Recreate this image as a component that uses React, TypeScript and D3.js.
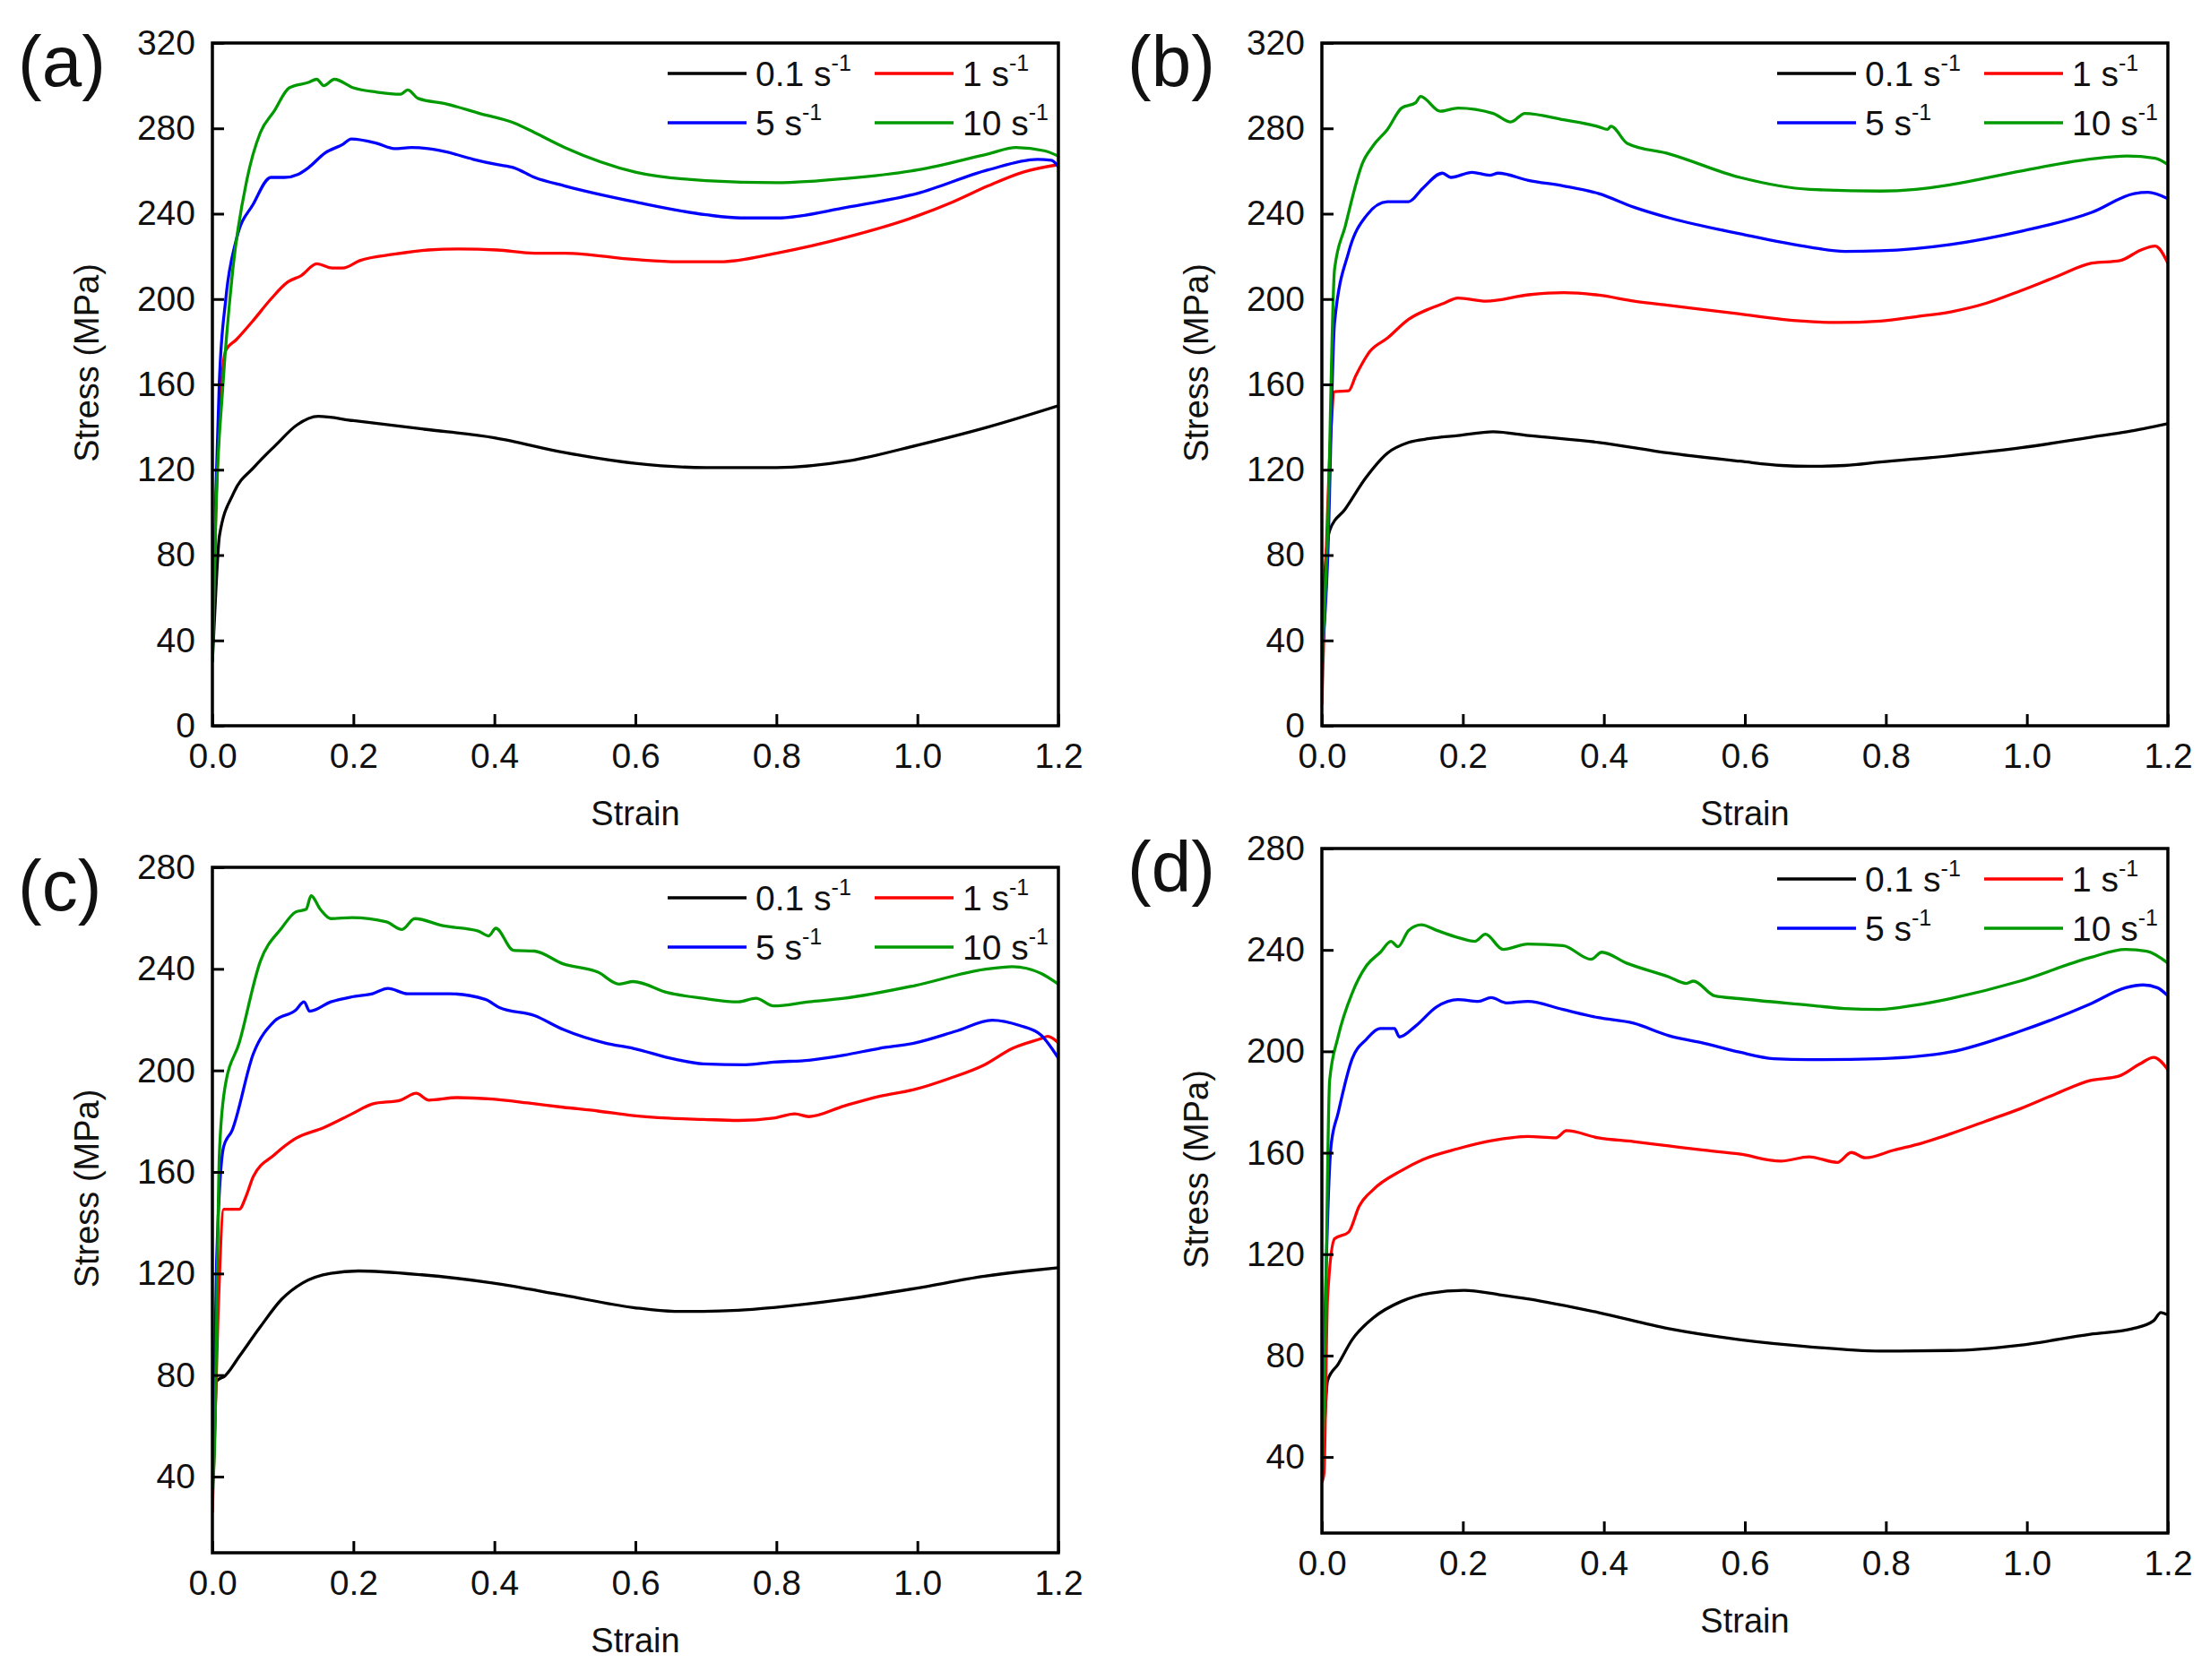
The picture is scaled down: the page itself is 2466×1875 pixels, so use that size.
import { useEffect, useRef } from "react";
import * as d3 from "d3";

type Pt = [number, number];

// (a) strain, stress (MPa)
const a01: Pt[] = [[0,30],[0.005,64],[0.01,89],[0.03,109],[0.06,121.5],[0.09,131.6],[0.12,141],[0.15,145],[0.2,143],[0.3,139],[0.4,135],[0.5,128],[0.6,123],[0.7,121],[0.8,121],[0.9,124],[1.0,131.5],[1.1,140],[1.2,150]];
const a1: Pt[] = [[0,30],[0.004,90],[0.01,144],[0.019,176],[0.034,181],[0.058,190],[0.083,200],[0.107,208],[0.126,211],[0.148,216.5],[0.17,214.5],[0.185,214.5],[0.209,218],[0.258,221],[0.306,223],[0.35,223.5],[0.404,223],[0.457,221.5],[0.5,221.5],[0.6,218.5],[0.66,217.5],[0.72,217.5],[0.8,221.5],[0.9,229],[1.0,239],[1.05,245.5],[1.1,253],[1.15,259.5],[1.2,263]];
const a5: Pt[] = [[0,30],[0.005,110],[0.0097,160],[0.019,200],[0.034,228],[0.058,244.5],[0.083,257],[0.102,257],[0.122,258.5],[0.136,261.5],[0.16,268.5],[0.185,272.5],[0.197,275],[0.233,273],[0.258,270.5],[0.282,271],[0.306,270.5],[0.331,269],[0.37,265.5],[0.404,263],[0.428,261.5],[0.457,257],[0.5,253],[0.6,245.5],[0.7,239.5],[0.75,238],[0.8,238],[0.9,243],[1.0,249.5],[1.1,260.5],[1.17,265.5],[1.19,265],[1.2,262]];
const a10: Pt[] = [[0,30],[0.005,100],[0.0146,158],[0.029,214],[0.049,256],[0.068,278],[0.0875,288],[0.109,299],[0.136,301.5],[0.148,303],[0.158,300],[0.173,303],[0.2,299],[0.233,297],[0.267,296],[0.277,298],[0.292,294],[0.331,291.5],[0.379,287],[0.428,282.5],[0.457,278],[0.5,271],[0.6,259.5],[0.7,255.5],[0.8,254.5],[0.9,256.5],[1.0,260.5],[1.1,268],[1.14,271],[1.18,269.5],[1.2,267]];

// (b)
const b01: Pt[] = [[0,20],[0.003,64],[0.011,91.5],[0.033,101.5],[0.063,116.5],[0.093,127.8],[0.123,132.8],[0.153,134.6],[0.193,136],[0.243,137.8],[0.293,136],[0.393,132.8],[0.493,127.8],[0.593,124],[0.652,122],[0.692,121.6],[0.742,122],[0.792,123.6],[0.892,126.6],[0.992,130.3],[1.092,135.3],[1.142,137.8],[1.2,141.6]];
const b1: Pt[] = [[0,10],[0.006,80],[0.013,139],[0.018,156.6],[0.038,157],[0.048,164],[0.068,175.4],[0.093,181.7],[0.123,190.5],[0.153,195.5],[0.173,198],[0.193,200.5],[0.233,199],[0.293,202],[0.343,203],[0.393,201.8],[0.443,199],[0.493,197],[0.593,193],[0.652,190.5],[0.732,189],[0.792,189.7],[0.842,191.7],[0.892,194],[0.942,198],[0.992,204],[1.042,210.5],[1.092,216.8],[1.132,218],[1.162,223],[1.182,224.8],[1.2,216.8]];
const b5: Pt[] = [[0,30],[0.008,76],[0.018,189],[0.038,222],[0.063,239],[0.093,245.6],[0.123,245.6],[0.143,251.9],[0.171,259],[0.183,257],[0.213,259.4],[0.238,258],[0.25,259],[0.293,255.6],[0.343,253],[0.393,249.4],[0.443,243],[0.493,238],[0.593,230.6],[0.692,224.3],[0.742,222.3],[0.792,222.6],[0.892,225.6],[0.992,231.8],[1.092,240.6],[1.152,249.4],[1.172,250],[1.2,247]];
const b10: Pt[] = [[0,30],[0.008,89],[0.018,214],[0.033,234],[0.058,264],[0.073,272],[0.093,279.5],[0.113,289.5],[0.133,292],[0.14,295],[0.168,288],[0.193,289.5],[0.243,287],[0.268,283],[0.288,287],[0.343,284],[0.393,280.7],[0.405,279.5],[0.41,281],[0.433,273],[0.493,268],[0.593,257],[0.692,251.4],[0.792,250.6],[0.842,251.4],[0.892,253.6],[0.992,260],[1.092,265.7],[1.142,267],[1.182,266],[1.2,263]];

// (c)
const c01: Pt[] = [[0,35],[0.001,41],[0.006,77.6],[0.018,79.7],[0.038,87.3],[0.068,99],[0.098,109.8],[0.128,116.3],[0.168,120.1],[0.207,121],[0.297,119.5],[0.397,116.3],[0.497,111.5],[0.597,106.6],[0.656,105.1],[0.696,105.1],[0.746,105.5],[0.796,106.6],[0.896,109.8],[0.996,114.1],[1.095,118.9],[1.155,121],[1.2,122.3]];
const c1: Pt[] = [[0,26],[0.008,103.4],[0.016,145.3],[0.038,145.3],[0.048,150.6],[0.058,158.2],[0.088,166.8],[0.118,173.2],[0.158,177.5],[0.198,182.9],[0.227,186.8],[0.267,188.3],[0.289,191],[0.307,188.3],[0.347,189.3],[0.397,188.7],[0.447,187.2],[0.497,185.5],[0.547,184],[0.597,182.2],[0.646,181.2],[0.696,180.7],[0.746,180.3],[0.796,181.2],[0.826,182.9],[0.846,181.8],[0.896,186],[0.946,189.8],[0.996,192.5],[1.045,196.8],[1.095,202.2],[1.135,208.7],[1.175,212.5],[1.185,213.4],[1.2,210.8]];
const c5: Pt[] = [[0,35],[0.006,124.9],[0.016,170],[0.028,176.4],[0.058,206.5],[0.088,219.4],[0.118,223.7],[0.13,227],[0.138,223.3],[0.168,227],[0.198,229],[0.227,230.2],[0.249,232.3],[0.277,230.2],[0.337,230.2],[0.387,228],[0.407,224.8],[0.457,221.6],[0.497,216.2],[0.557,210.8],[0.597,208.7],[0.656,204.4],[0.696,202.6],[0.756,202.2],[0.796,203.3],[0.846,204],[0.896,206],[0.946,208.7],[0.996,210.8],[1.055,215.5],[1.106,219.8],[1.145,217.7],[1.175,214],[1.2,204.8]];
const c10: Pt[] = [[0,35],[0.003,50],[0.01,167.8],[0.018,193.6],[0.038,210.8],[0.068,243],[0.098,256],[0.118,262.4],[0.133,263.5],[0.14,268.8],[0.153,263.5],[0.168,259.8],[0.198,260.2],[0.247,258.5],[0.269,255.5],[0.287,259.8],[0.327,257],[0.377,254.9],[0.392,253],[0.402,256],[0.427,247.3],[0.457,247],[0.497,242],[0.547,238.7],[0.577,234],[0.597,235],[0.646,230.6],[0.696,228.4],[0.746,227],[0.771,228.4],[0.796,225.4],[0.846,227],[0.896,228.4],[0.996,233.4],[1.095,239.8],[1.135,240.9],[1.175,238.3],[1.2,234]];

// (d)
const d01: Pt[] = [[0,35],[0.003,48.6],[0.008,70.1],[0.023,76.6],[0.043,86.3],[0.073,94.9],[0.113,101.4],[0.153,104.6],[0.202,105.7],[0.252,104],[0.292,102.4],[0.392,97],[0.492,90.6],[0.592,86.3],[0.691,83.5],[0.791,81.8],[0.891,82],[0.99,84.1],[1.09,88.4],[1.15,90.6],[1.18,93.8],[1.19,97],[1.2,96]];
const d1: Pt[] = [[0,30],[0.003,33.6],[0.008,102.4],[0.018,126.1],[0.038,128.7],[0.053,139],[0.073,145.5],[0.113,153],[0.143,157.3],[0.193,161.6],[0.242,164.8],[0.292,166.4],[0.332,165.9],[0.347,168.7],[0.392,165.9],[0.442,164.4],[0.492,162.7],[0.542,161],[0.592,159.5],[0.651,156.7],[0.691,158.4],[0.731,156.2],[0.751,160.1],[0.771,158],[0.811,161],[0.851,163.8],[0.891,167.4],[0.941,172.4],[0.99,177.3],[1.04,183.1],[1.09,188.5],[1.13,190.2],[1.16,195],[1.18,197.6],[1.2,192.8]];
const d5: Pt[] = [[0,35],[0.005,102.4],[0.013,162.7],[0.023,175.6],[0.043,197.1],[0.063,204.7],[0.083,209],[0.103,209],[0.11,205.7],[0.133,210],[0.163,217.6],[0.193,220.4],[0.222,219.7],[0.24,221.2],[0.262,219.1],[0.292,219.7],[0.342,216.5],[0.392,213.3],[0.442,211.1],[0.492,206.2],[0.542,203.2],[0.592,199.7],[0.641,197.1],[0.691,196.7],[0.791,197.1],[0.891,199.7],[0.99,207.9],[1.09,218.7],[1.14,225.1],[1.165,226.2],[1.185,225.1],[1.2,221.9]];
const d10: Pt[] = [[0,35],[0.003,59.4],[0.011,188.5],[0.023,205.7],[0.043,223],[0.063,233.7],[0.083,239.1],[0.098,243.4],[0.108,241.3],[0.123,247.7],[0.141,249.9],[0.163,247.7],[0.193,244.9],[0.217,243.4],[0.232,246.2],[0.257,240.2],[0.292,242.3],[0.342,241.7],[0.382,236.3],[0.397,239.1],[0.432,234.8],[0.492,229.4],[0.517,226.8],[0.527,227.7],[0.557,221.9],[0.592,220.8],[0.691,218.2],[0.741,216.9],[0.791,216.5],[0.841,218.2],[0.891,220.8],[0.99,227.7],[1.09,237],[1.14,240.2],[1.17,239.5],[1.2,234.8]];

const rates = ["0.1", "1", "5", "10"];
const colors = ["#000000", "#ff0000", "#0000ff", "#009a00"];
const strainTicks = [0, 0.2, 0.4, 0.6, 0.8, 1.0, 1.2];
const stressTicksAB = [0, 40, 80, 120, 160, 200, 240, 280, 320];
const stressTicksCD = [40, 80, 120, 160, 200, 240, 280];

const W = 2466;
const H = 1875;
const FONT = "'Liberation Sans', Arial, Helvetica, sans-serif";

const panels = [
  { label: "(a)", left: 237, top: 48, w: 944, h: 762, yDomain: [0, 320], yTicks: stressTicksAB, series: [a01, a1, a5, a10] },
  { label: "(b)", left: 1475, top: 48, w: 944, h: 762, yDomain: [0, 320], yTicks: stressTicksAB, series: [b01, b1, b5, b10] },
  { label: "(c)", left: 237, top: 968, w: 944, h: 765, yDomain: [10, 280], yTicks: stressTicksCD, series: [c01, c1, c5, c10] },
  { label: "(d)", left: 1475, top: 947, w: 944, h: 764, yDomain: [10, 280], yTicks: stressTicksCD, series: [d01, d1, d5, d10] },
];

export default function App() {
  const ref = useRef<SVGSVGElement>(null);

  useEffect(() => {
    if (!ref.current) return;
    const svg = d3.select(ref.current);
    svg.selectAll("*").remove();

    svg.append("rect").attr("width", W).attr("height", H).attr("fill", "#fff");

    panels.forEach((p, pi) => {
      const x = d3.scaleLinear().domain([0, 1.2]).range([0, p.w]);
      const y = d3.scaleLinear().domain(p.yDomain).range([p.h, 0]);

      const g = svg.append("g").attr("transform", `translate(${p.left},${p.top})`);

      const clipId = `clip-${pi}`;
      g.append("clipPath").attr("id", clipId)
        .append("rect").attr("width", p.w).attr("height", p.h);

      const line = d3.line<Pt>()
        .x(d => x(d[0]))
        .y(d => y(d[1]))
        .curve(d3.curveMonotoneX);

      p.series.forEach((s, i) => {
        g.append("path")
          .datum(s)
          .attr("d", line)
          .attr("fill", "none")
          .attr("stroke", colors[i])
          .attr("stroke-width", 3.3)
          .attr("stroke-linejoin", "round")
          .attr("clip-path", `url(#${clipId})`);
      });

      const xAxis = d3.axisBottom(x)
        .tickValues(strainTicks)
        .tickFormat(d3.format(".1f"))
        .tickSizeInner(-13)
        .tickSizeOuter(0)
        .tickPadding(19);
      const yAxis = d3.axisLeft(y)
        .tickValues(p.yTicks)
        .tickFormat(d3.format("d"))
        .tickSizeInner(-13)
        .tickSizeOuter(0)
        .tickPadding(19);

      const gx = g.append("g").attr("transform", `translate(0,${p.h})`).call(xAxis);
      const gy = g.append("g").call(yAxis);
      [gx, gy].forEach(a => {
        a.attr("font-family", FONT).attr("font-size", 39);
        a.select(".domain").remove();
        a.selectAll(".tick line").attr("stroke", "#000").attr("stroke-width", 3);
        a.selectAll(".tick text").attr("fill", "#111");
      });

      // frame
      g.append("rect")
        .attr("width", p.w)
        .attr("height", p.h)
        .attr("fill", "none")
        .attr("stroke", "#000")
        .attr("stroke-width", 3.5);

      // axis titles
      g.append("text")
        .attr("x", p.w / 2)
        .attr("y", p.h + 111)
        .attr("text-anchor", "middle")
        .attr("font-family", FONT)
        .attr("font-size", 38)
        .attr("fill", "#111")
        .text("Strain");

      g.append("text")
        .attr("transform", `translate(-127,${p.h / 2 - 24}) rotate(-90)`)
        .attr("text-anchor", "middle")
        .attr("font-family", FONT)
        .attr("font-size", 38)
        .attr("fill", "#111")
        .text("Stress (MPa)");

      // panel label
      g.append("text")
        .attr("x", -217)
        .attr("y", 48)
        .attr("font-family", FONT)
        .attr("font-size", 80)
        .attr("fill", "#111")
        .text(p.label);

      // legend, 2 x 2
      rates.forEach((r, i) => {
        const col = i % 2;
        const row = Math.floor(i / 2);
        const x0 = p.w - (col === 0 ? 436 : 205);
        const yy = row === 0 ? 34 : 89;
        g.append("line")
          .attr("x1", x0).attr("x2", x0 + 88)
          .attr("y1", yy).attr("y2", yy)
          .attr("stroke", colors[i])
          .attr("stroke-width", 3.5);
        const t = g.append("text")
          .attr("x", x0 + 98)
          .attr("y", yy + 14)
          .attr("font-family", FONT)
          .attr("font-size", 39)
          .attr("fill", "#111");
        t.append("tspan").text(`${r} s`);
        t.append("tspan").attr("dy", -17).attr("font-size", 25).text("-1");
      });
    });
  }, []);

  return (
    <svg ref={ref} width={W} height={H} style={{ position: "absolute", left: 0, top: 0 }} />
  );
}
